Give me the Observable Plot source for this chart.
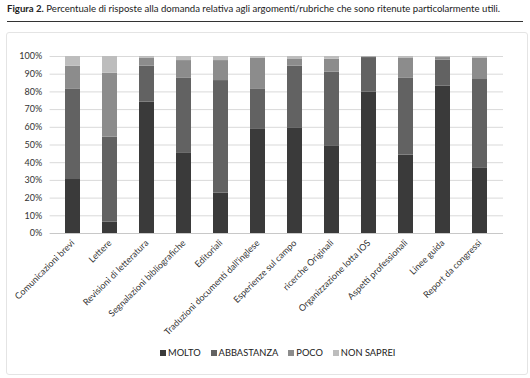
<!DOCTYPE html>
<html><head><meta charset="utf-8">
<script src="https://cdn.jsdelivr.net/npm/d3@7"></script>
<script src="https://cdn.jsdelivr.net/npm/@observablehq/plot@0.6"></script>
<style>
body{margin:0;background:#fff;font-family:Lato,"Open Sans",sans-serif;}
#wrap{position:relative;width:530px;height:378px;overflow:hidden;}
#title{position:absolute;left:7px;top:3px;font-size:9.6px;color:#222;white-space:nowrap;}
#rule{position:absolute;left:7px;top:21px;width:516px;height:1px;background:#333;}
#frame{position:absolute;left:6px;top:32px;width:520px;height:341px;border:1px solid #e4e4e4;border-radius:3px;}
#chart{position:absolute;left:0;top:0;}
#legend{position:absolute;left:160px;top:347px;display:flex;gap:10px;font-size:9.3px;color:#222;}
#legend span{display:flex;align-items:center;}
#legend i{display:inline-block;width:6px;height:6px;margin-right:2px;}
</style></head>
<body><div id="wrap">
<div id="frame"></div>
<div id="title"><b>Figura 2.</b> Percentuale di risposte alla domanda relativa agli argomenti/rubriche che sono ritenute particolarmente utili.</div>
<div id="rule"></div>
<div id="chart"></div>
<div id="legend"></div>
</div>
<script>
const categories = ["Comunicazioni brevi","Lettere","Revisioni di letteratura","Segnalazioni bibliografiche","Editoriali","Traduzioni documenti dall'inglese","Esperienze sul campo","ricerche Originali","Organizzazione lotta IOS","Aspetti professionali","Linee guida","Report da congressi"];
const series = ["MOLTO","ABBASTANZA","POCO","NON SAPREI"];
const molto      = [30.5, 6.4, 74.2, 45.6, 22.8, 58.8, 59.7, 49.2, 79.8, 44.3, 83.2, 37.1];
const abbastanza = [51.2, 48.0, 20.3, 42.3, 63.6, 22.6, 34.8, 41.9, 19.6, 43.6, 14.7, 49.9];
const poco       = [12.8, 36.2, 4.6, 9.8, 11.3, 17.7, 3.8, 7.4, 0.4, 11.0, 1.5, 11.9];
const nonSaprei  = [5.5, 9.4, 0.9, 2.3, 2.3, 0.9, 1.7, 1.5, 0.2, 1.1, 0.6, 1.1];
const colors = ["#3a3a3a","#626262","#8c8c8c","#bdbdbd"];
const yTicks = [0,0.1,0.2,0.3,0.4,0.5,0.6,0.7,0.8,0.9,1];

const values = [molto, abbastanza, poco, nonSaprei];
const data = [];
categories.forEach((c, i) => series.forEach((s, j) => data.push({cat: c, serie: s, value: values[j][i] / 100})));

const plot = Plot.plot({
  width: 530, height: 378,
  marginTop: 56, marginBottom: 145, marginLeft: 49.6, marginRight: 27,
  style: {fontFamily: "Lato, sans-serif", fontSize: "9px", color: "#333", background: "transparent"},
  x: {domain: categories, paddingInner: 0.6, paddingOuter: 0.3, label: null},
  y: {domain: [0, 1], label: null},
  color: {domain: series, range: colors},
  marks: [
    Plot.ruleY(yTicks.filter(d => d > 0), {stroke: "#d9d9d9", strokeWidth: 1}),
    Plot.barY(data, Plot.stackY({x: "cat", y: "value", fill: "serie", order: series})),
    Plot.ruleY([0], {stroke: "#c8c8c8"}),
    Plot.axisY({ticks: yTicks, tickFormat: d3.format(".0%"), tickSize: 0, tickPadding: 8, fontSize: 9, label: null}),
    Plot.axisX({tickSize: 0, tickPadding: 8, tickRotate: -45, fontSize: 9, label: null})
  ]
});
document.getElementById("chart").appendChild(plot);

const leg = document.getElementById("legend");
series.forEach((s, j) => {
  const sp = document.createElement("span");
  sp.innerHTML = `<i style="background:${colors[j]}"></i>${s}`;
  leg.appendChild(sp);
});
</script>
</body></html>
